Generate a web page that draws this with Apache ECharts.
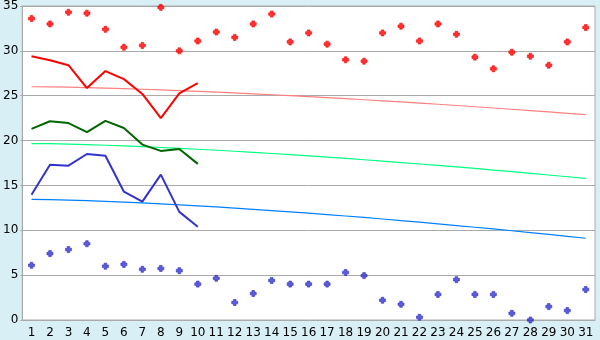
<!DOCTYPE html>
<html>
<head>
<meta charset="utf-8">
<script src="https://cdn.jsdelivr.net/npm/echarts@6/dist/echarts.min.js"></script>
<style>
html,body{margin:0;padding:0;background:#d9eff6;}
#chart{width:600px;height:340px;}
</style>
</head>
<body>
<div id="chart"></div>
<script>
var days = ['1','2','3','4','5','6','7','8','9','10','11','12','13','14','15','16','17','18','19','20','21','22','23','24','25','26','27','28','29','30','31'];
var yTicks = [0,5,10,15,20,25,30,35];

// daily maximum (red markers)
var dailyMax = [33.6,33.0,34.3,34.2,32.4,30.4,30.6,34.85,30.0,31.1,32.1,31.5,33.0,34.1,31.0,32.0,30.75,29.0,28.85,32.0,32.75,31.1,33.0,31.85,29.3,28.0,29.85,29.4,28.4,31.0,32.6];
// daily minimum (blue markers)
var dailyMin = [6.1,7.4,7.85,8.5,6.0,6.2,5.65,5.75,5.5,4.0,4.65,1.95,2.95,4.4,4.0,4.0,4.0,5.3,4.95,2.2,1.75,0.3,2.85,4.5,2.85,2.85,0.75,0.0,1.5,1.05,3.4];
// running means (thick lines, first 10 days)
var meanMax = [29.4,28.95,28.4,25.85,27.75,26.85,25.2,22.5,25.25,26.4];
var meanAvg = [21.3,22.15,21.95,20.95,22.2,21.4,19.55,18.85,19.05,17.4];
var meanMin = [13.95,17.3,17.2,18.5,18.3,14.3,13.2,16.2,12.05,10.4];
// normals (thin lines)
var normMax = [26.0,25.98,25.95,25.9,25.85,25.79,25.72,25.65,25.57,25.49,25.4,25.31,25.21,25.11,25.01,24.9,24.79,24.67,24.55,24.43,24.31,24.18,24.05,23.91,23.77,23.63,23.49,23.34,23.19,23.04,22.89];
var normAvg = [19.67,19.65,19.6,19.55,19.48,19.41,19.32,19.23,19.13,19.03,18.92,18.81,18.69,18.56,18.43,18.29,18.15,18.01,17.86,17.71,17.55,17.39,17.23,17.06,16.89,16.71,16.53,16.35,16.16,15.97,15.78];
var normMin = [13.44,13.41,13.37,13.3,13.23,13.15,13.05,12.95,12.84,12.73,12.61,12.48,12.34,12.2,12.06,11.91,11.75,11.59,11.43,11.26,11.08,10.9,10.72,10.53,10.34,10.15,9.95,9.74,9.54,9.32,9.11];

var plusPath = 'path://M2,0H5V2H7V5H5V7H2V5H0V2H2Z';

var chart = echarts.init(document.getElementById('chart'), null, {renderer:'canvas'});
function thin(data, color){
  return {type:'line', data:data, showSymbol:false, symbol:'none', silent:true,
    lineStyle:{color:color, width:1.2}, z:2, animation:false};
}
function thick(data, color){
  return {type:'line', data:data, showSymbol:false, symbol:'none', silent:true,
    lineStyle:{color:color, width:2}, z:4, animation:false};
}
function marks(data, color){
  return {type:'scatter', data:data, symbol:plusPath, symbolSize:6, silent:true,
    itemStyle:{color:color, borderColor:color, borderWidth:0.8}, z:5, animation:false};
}
chart.setOption({
  animation:false,
  backgroundColor:'#d9eff6',
  grid:{left:20, right:5, top:5, bottom:20, show:true, backgroundColor:'#ffffff', borderColor:'#aaaaaa', borderWidth:1},
  xAxis:{
    type:'category', data:days, boundaryGap:true,
    axisLine:{lineStyle:{color:'#aaaaaa'}},
    axisTick:{alignWithLabel:true, length:4, lineStyle:{color:'#333333'}},
    axisLabel:{interval:0, color:'#000', fontFamily:'DejaVu Sans', fontSize:12, margin:7},
    splitLine:{show:false}
  },
  yAxis:{
    type:'value', min:yTicks[0], max:yTicks[yTicks.length-1], interval:5,
    axisLine:{show:true, lineStyle:{color:'#aaaaaa'}},
    axisTick:{show:true, length:2, lineStyle:{color:'#aaaaaa'}},
    axisLabel:{color:'#000', fontFamily:'DejaVu Sans', fontSize:12, margin:4},
    splitLine:{show:true, lineStyle:{color:'#aaaaaa', width:1}}
  },
  series:[
    thin(normMax,'#ff8080'),
    thin(normAvg,'#00ff80'),
    thin(normMin,'#0080ff'),
    thick(meanMax,'#ff0000'),
    thick(meanAvg,'#006600'),
    thick(meanMin,'#3333cc'),
    marks(dailyMax,'#ff0000'),
    marks(dailyMin,'#3333cc')
  ]
});
</script>
</body>
</html>
